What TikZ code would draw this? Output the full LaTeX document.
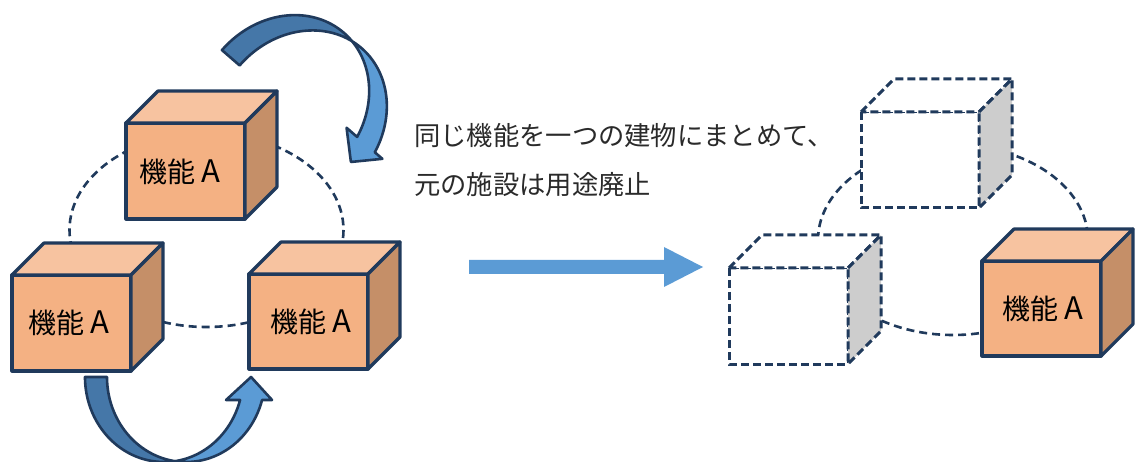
\documentclass[tikz,border=0pt]{standalone}
\usepackage{fontspec}
\newfontfamily\jp{Noto Sans CJK JP}
\definecolor{navy}{HTML}{203A5C}
\definecolor{cubefront}{HTML}{F4B183}
\definecolor{cubetop}{HTML}{F7C3A0}
\definecolor{cubeside}{HTML}{C58F68}
\definecolor{arrdark}{HTML}{4577A8}
\definecolor{arrlight}{HTML}{5B9BD5}
\definecolor{sidegray}{HTML}{CDCDCD}
\definecolor{txtgray}{HTML}{2A2A2A}
\tikzset{
  ofront/.style={fill=cubefront, draw=navy, line width=3.2pt, line join=round},
  otop/.style={fill=cubetop, draw=navy, line width=3.2pt, line join=round},
  oside/.style={fill=cubeside, draw=navy, line width=3.2pt, line join=round},
  dfront/.style={fill=white, draw=navy, line width=3pt, dash pattern=on 8pt off 4pt},
  dtop/.style={fill=white, draw=navy, line width=3pt, dash pattern=on 8pt off 4pt},
  dside/.style={fill=sidegray, draw=navy, line width=3pt, dash pattern=on 8pt off 4pt},
  ring/.style={draw=navy, line width=2.6pt, dash pattern=on 8pt off 5pt},
  lbl/.style={font=\jp\fontsize{28}{32}\selectfont, inner sep=0pt, text=black},
  jtext/.style={font=\jp\fontsize{26.3}{31}\selectfont, inner sep=0pt, text=txtgray, anchor=west},
  darkband/.style={fill=arrdark, draw=navy, line width=2.6pt, line join=round},
  lightband/.style={fill=arrlight, draw=navy, line width=2.6pt, line join=round},
}
\newcommand\bigA{{\fontsize{31}{32}\selectfont A}}
% cube: #1 x1, #2 y1, #3 x2, #4 y2, #5 depth, #6 style prefix
\newcommand\drawcube[6]{%
  \path[#6front] (#1,#2) rectangle (#3,#4);
  \path[#6top] (#1,#2) -- ({#1+#5},{#2-#5}) -- ({#3+#5},{#2-#5}) -- (#3,#2) -- cycle;
  \path[#6side] (#3,#2) -- ({#3+#5},{#2-#5}) -- ({#3+#5},{#4-#5}) -- (#3,#4) -- cycle;
}
\newcommand\setarrow[9]{\def\cx{#1}\def\cy{#2}\def\exx{#3}\def\exy{#4}\def\eyx{#5}\def\eyy{#6}\def\rx{#7}\def\ry{#8}\def\hw{#9}}
\newcommand\drawcurvarrow{%
  \pgfmathsetmacro\ti{acos(\hw/\rx)}%
  \pgfmathsetmacro\tj{180-\ti}%
  \pgfmathsetmacro\th{asin(23/\ry)}%
  \pgfmathsetmacro\uAr{-\hw+\rx*cos(\th)}%
  \pgfmathsetmacro\uBr{\hw+\rx*cos(\th)}%
  \pgfmathsetmacro\hia{\uAr-14}%
  \pgfmathsetmacro\hoa{\uBr+10}%
  \pgfmathsetmacro\tpa{(\uAr+\uBr)/2}%
  \coordinate (hi) at ({\cx+(\exx)*(\hia)+(\eyx)*23},{\cy+(\exy)*(\hia)+(\eyy)*23});
  \coordinate (ho) at ({\cx+(\exx)*(\hoa)+(\eyx)*23},{\cy+(\exy)*(\hoa)+(\eyy)*23});
  \coordinate (tp) at ({\cx+(\exx)*(\tpa)},{\cy+(\exy)*(\tpa)});
  \path[darkband]
    plot[variable=\t,domain=180:\ti,samples=60]
      ({\cx+(\exx)*(-\hw+\rx*cos(\t))+(\eyx)*\ry*sin(\t)},{\cy+(\exy)*(-\hw+\rx*cos(\t))+(\eyy)*\ry*sin(\t)})
    -- plot[variable=\t,domain=\tj:180,samples=60]
      ({\cx+(\exx)*(\hw+\rx*cos(\t))+(\eyx)*\ry*sin(\t)},{\cy+(\exy)*(\hw+\rx*cos(\t))+(\eyy)*\ry*sin(\t)})
    -- cycle;
  \path[lightband]
    plot[variable=\t,domain=\tj:\th,samples=60]
      ({\cx+(\exx)*(\hw+\rx*cos(\t))+(\eyx)*\ry*sin(\t)},{\cy+(\exy)*(\hw+\rx*cos(\t))+(\eyy)*\ry*sin(\t)})
    -- (ho) -- (tp) -- (hi)
    -- plot[variable=\t,domain=\th:\ti,samples=60]
      ({\cx+(\exx)*(-\hw+\rx*cos(\t))+(\eyx)*\ry*sin(\t)},{\cy+(\exy)*(-\hw+\rx*cos(\t))+(\eyy)*\ry*sin(\t)})
    -- cycle;
}
\begin{document}
\begin{tikzpicture}[x=1pt,y=-1pt]
\useasboundingbox (0,0) rectangle (1135,462);
\clip (0,0) rectangle (1135,462);
% rings
\draw[ring] (206.5,230) ellipse [x radius=137, y radius=97];
\draw[ring] (953,240) ellipse [x radius=135, y radius=95];
% left group cubes
\drawcube{126}{123}{245}{219}{32}{o}
\drawcube{12}{275}{131}{371}{32}{o}
\drawcube{249}{274}{368}{369}{32}{o}
\node[lbl] (c1) at (180,172) {機能 \bigA};
\node[lbl] (c2) at (69,323) {機能 \bigA};
\node[lbl] (c3) at (311,322) {機能 \bigA};
% curved arrows
\setarrow{291.8}{110.7}{0.755}{0.655}{0.655}{-0.755}{80.8}{93}{11.7}
\drawcurvarrow
\setarrow{175}{377}{1}{0}{0}{1}{79}{85}{11}
\drawcurvarrow
% text
\node[jtext] (t1) at (414,136) {同じ機能を一つの建物にまとめて、};
\node[jtext] (t2) at (414,185) {元の施設は用途廃止};
% big arrow
\coordinate (a1) at (469,267);
\coordinate (a2) at (703,267);
\fill[arrlight] (a1) ++(0,-7) -- ++(195,0) -- ++(0,-13) -- (a2) -- ++(-39,20) -- ++(0,-13) -- ++(-195,0) -- cycle;
% right group cubes
\drawcube{861}{112}{979}{208}{33}{d}
\drawcube{729}{268}{848}{364}{33}{d}
\drawcube{982}{261}{1101}{356}{32}{o}
\node[lbl] (c4) at (1043,309) {機能 \bigA};
\end{tikzpicture}
\end{document}
